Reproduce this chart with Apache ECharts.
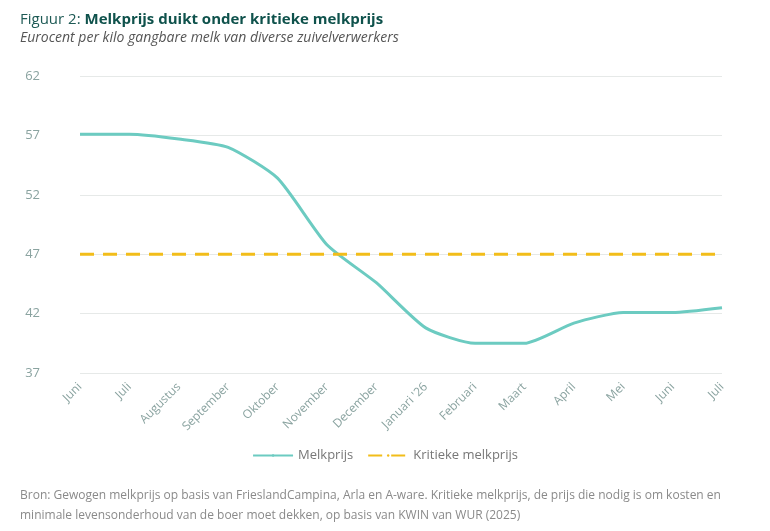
<!DOCTYPE html>
<html><head><meta charset="utf-8">
<script src="https://cdn.jsdelivr.net/npm/echarts@6/dist/echarts.min.js"></script>
<style>body{margin:0;background:#fff}#c{width:770px;height:531px}</style>
</head><body><div id="c"></div>
<script>
const maanden = ['Juni','Juli','Augustus','September','Oktober','November','December',"Januari '26",'Februari','Maart','April','Mei','Juni','Juli'];
const melkprijs = [57.1,57.1,56.7,56.0,53.4,47.8,44.6,40.8,39.5,39.5,41.2,42.1,42.1,42.5];
const kritiek = [47,47,47,47,47,47,47,47,47,47,47,47,47,47];

const chart = echarts.init(document.getElementById('c'));
chart.setOption({
  animation: false,
  textStyle: {fontFamily: 'Open Sans'},
  title: [{
    left: 15, top: 7,
    text: '{n|Figuur 2: }{b|Melkprijs duikt onder kritieke melkprijs}',
    textStyle: {fontWeight: 'normal', rich: {
      n: {fontSize: 15, color: '#1e5a55', fontWeight: 'normal', fontFamily: 'Open Sans'},
      b: {fontSize: 15, color: '#0f524c', fontWeight: 'bold', fontFamily: 'Open Sans'}
    }},
    subtext: 'Eurocent per kilo gangbare melk van diverse zuivelverwerkers',
    subtextStyle: {fontSize: 14, fontStyle: 'italic', color: '#555', fontFamily: 'Open Sans'},
    itemGap: 4
  }, {
    left: 15, top: 481,
    text: 'Bron: Gewogen melkprijs op basis van FrieslandCampina, Arla en A-ware. Kritieke melkprijs, de prijs die nodig is om kosten en\nminimale levensonderhoud van de boer moet dekken, op basis van KWIN van WUR (2025)',
    textStyle: {fontSize: 12, fontWeight: 'normal', color: '#8a8a8a', lineHeight: 20, fontFamily: 'Open Sans'}
  }],
  legend: {
    top: 444, left: 'center', itemWidth: 40, itemHeight: 3, itemGap: 14,
    textStyle: {fontSize: 13, color: '#777'},
    data: ['Melkprijs', 'Kritieke melkprijs']
  },
  grid: {left: 80, right: 48, top: 76, bottom: 158},
  xAxis: {
    type: 'category', data: maanden, boundaryGap: false,
    axisLine: {show: false}, axisTick: {show: false},
    axisLabel: {rotate: 45, color: '#8aa3a0', fontSize: 12, margin: 12, interval: 0}
  },
  yAxis: {
    type: 'value', min: 37, max: 62, interval: 5,
    axisLabel: {color: '#8aa3a0', fontSize: 13, margin: 40},
    splitLine: {lineStyle: {color: '#e6e9e8'}}
  },
  series: [{
    name: 'Melkprijs', type: 'line', data: melkprijs, smooth: 0.2, symbol: 'none',
    lineStyle: {color: '#6ccbc1', width: 3}, itemStyle: {color: '#6ccbc1'}
  }, {
    name: 'Kritieke melkprijs', type: 'line', data: kritiek, symbol: 'none',
    lineStyle: {color: '#f2bd1a', width: 3, type: [14, 9]}, itemStyle: {color: '#f2bd1a'}
  }]
});
</script></body></html>
